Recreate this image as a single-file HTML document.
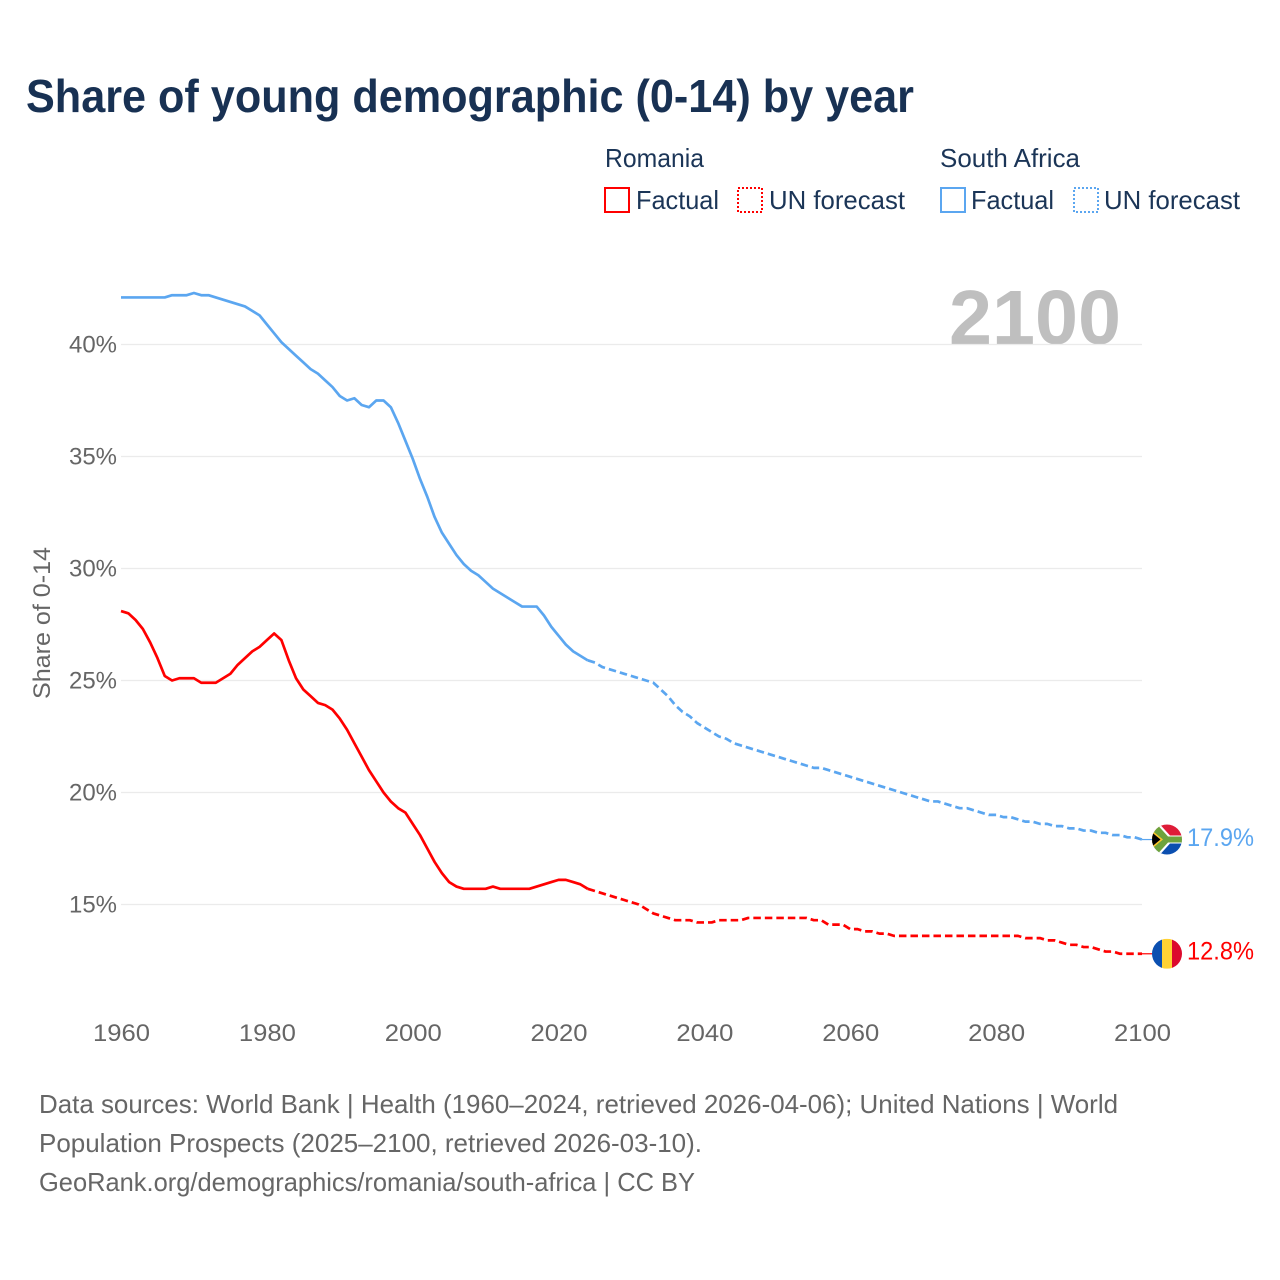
<!DOCTYPE html>
<html lang="en">
<head>
<meta charset="utf-8">
<title>Share of young demographic (0-14) by year</title>
<style>
html,body{margin:0;padding:0;background:#fff;width:1280px;height:1280px;overflow:hidden}
svg{display:block}
text{font-family:"Liberation Sans",sans-serif}
</style>
</head>
<body>
<svg id="chart" xmlns="http://www.w3.org/2000/svg" width="1280" height="1280" viewBox="0 0 1280 1280">
  <rect width="1280" height="1280" fill="#fff"/>
  <defs>
    <clipPath id="flagClipSA"><circle cx="0" cy="0" r="15"/></clipPath>
    <clipPath id="flagClipRO"><circle cx="0" cy="0" r="15"/></clipPath>
  </defs>

  <text x="26" y="112" font-size="46" font-weight="700" fill="#183153" textLength="888" lengthAdjust="spacingAndGlyphs">Share of young demographic (0-14) by year</text>

  <g fill="#1b3557" font-size="26">
    <text x="605" y="167" textLength="99" lengthAdjust="spacingAndGlyphs">Romania</text>
    <text x="940" y="167" textLength="140" lengthAdjust="spacingAndGlyphs">South Africa</text>
    <rect x="605" y="188" width="24" height="24" fill="none" stroke="#ff0000" stroke-width="2"/>
    <text x="636" y="209" textLength="83" lengthAdjust="spacingAndGlyphs">Factual</text>
    <rect x="738" y="188" width="24" height="24" fill="none" stroke="#ff0000" stroke-width="2" stroke-dasharray="2 2"/>
    <text x="769" y="209" textLength="136" lengthAdjust="spacingAndGlyphs">UN forecast</text>
    <rect x="941" y="188" width="24" height="24" fill="none" stroke="#5ba6f0" stroke-width="2"/>
    <text x="971" y="209" textLength="83" lengthAdjust="spacingAndGlyphs">Factual</text>
    <rect x="1074" y="188" width="24" height="24" fill="none" stroke="#5ba6f0" stroke-width="2" stroke-dasharray="2 2"/>
    <text x="1104" y="209" textLength="136" lengthAdjust="spacingAndGlyphs">UN forecast</text>
  </g>

  <text x="949" y="344" font-size="77" font-weight="700" fill="#bfbfbf" textLength="172" lengthAdjust="spacingAndGlyphs">2100</text>

  <g id="grid"></g>
  <g id="yticks"></g>
  <g id="xticks"></g>

  <text transform="translate(50,623) rotate(-90)" text-anchor="middle" font-size="24" fill="#666" textLength="152" lengthAdjust="spacingAndGlyphs">Share of 0-14</text>

  <g id="series"></g>

  <g id="flagSA">
    <g clip-path="url(#flagClipSA)">
      <rect x="-15" y="-15" width="30" height="15" fill="#de1c38"/>
      <rect x="-15" y="0" width="30" height="15" fill="#0b4fb0"/>
      <path d="M-15,-15 L-7,-15 L3,-4 L15,-4 L15,4 L3,4 L-7,15 L-15,15 Z" fill="#fff"/>
      <path d="M-15,-14 L-9,-14 L1,-3 L15,-3 L15,3 L1,3 L-9,14 L-15,14 Z" fill="#6ea33c"/>
      <path d="M-15,-9 L-4,0 L-15,9 Z" fill="#ffc72c"/>
      <path d="M-15,-7 L-6.5,0 L-15,7 Z" fill="#000"/>
    </g>
  </g>
  <g id="flagRO">
    <g clip-path="url(#flagClipRO)">
      <rect x="-15" y="-15" width="10" height="30" fill="#0b4fb0"/>
      <rect x="-5" y="-15" width="10" height="30" fill="#ffd234"/>
      <rect x="5" y="-15" width="10" height="30" fill="#dc0a2d"/>
    </g>
  </g>
  <text id="endSA" font-size="25" fill="#5ba6f0" textLength="67" lengthAdjust="spacingAndGlyphs"></text>
  <text id="endRO" font-size="25" fill="#ff0000" textLength="67" lengthAdjust="spacingAndGlyphs"></text>

  <g font-size="26" fill="#666">
    <text x="39" y="1113" textLength="1079" lengthAdjust="spacingAndGlyphs">Data sources: World Bank | Health (1960–2024, retrieved 2026-04-06); United Nations | World</text>
    <text x="39" y="1152" textLength="663" lengthAdjust="spacingAndGlyphs">Population Prospects (2025–2100, retrieved 2026-03-10).</text>
    <text x="39" y="1191" textLength="656" lengthAdjust="spacingAndGlyphs">GeoRank.org/demographics/romania/south-africa | CC BY</text>
  </g>
</svg>
<script>
const startYear = 1960;
const lastFactualYear = 2024;
const yTicks = [15, 20, 25, 30, 35, 40];
const xTicks = [1960, 1980, 2000, 2020, 2040, 2060, 2080, 2100];
const southAfrica = [
  42.1,42.1,42.1,42.1,42.1,42.1,42.1,42.2,42.2,42.2,
  42.3,42.2,42.2,42.1,42.0,41.9,41.8,41.7,41.5,41.3,
  40.9,40.5,40.1,39.8,39.5,39.2,38.9,38.7,38.4,38.1,
  37.7,37.5,37.6,37.3,37.2,37.5,37.5,37.2,36.5,35.7,
  34.9,34.0,33.2,32.3,31.6,31.1,30.6,30.2,29.9,29.7,
  29.4,29.1,28.9,28.7,28.5,28.3,28.3,28.3,27.9,27.4,
  27.0,26.6,26.3,26.1,25.9,25.8,25.6,25.5,25.4,25.3,
  25.2,25.1,25.0,24.9,24.6,24.3,23.9,23.6,23.4,23.1,
  22.9,22.7,22.5,22.4,22.2,22.1,22.0,21.9,21.8,21.7,
  21.6,21.5,21.4,21.3,21.2,21.1,21.1,21.0,20.9,20.8,
  20.7,20.6,20.5,20.4,20.3,20.2,20.1,20.0,19.9,19.8,
  19.7,19.6,19.6,19.5,19.4,19.3,19.3,19.2,19.1,19.0,
  19.0,18.9,18.9,18.8,18.7,18.7,18.6,18.6,18.5,18.5,
  18.4,18.4,18.3,18.3,18.2,18.2,18.1,18.1,18.0,18.0,
  17.9
];
const romania = [
  28.1,28.0,27.7,27.3,26.7,26.0,25.2,25.0,25.1,25.1,
  25.1,24.9,24.9,24.9,25.1,25.3,25.7,26.0,26.3,26.5,
  26.8,27.1,26.8,25.9,25.1,24.6,24.3,24.0,23.9,23.7,
  23.3,22.8,22.2,21.6,21.0,20.5,20.0,19.6,19.3,19.1,
  18.6,18.1,17.5,16.9,16.4,16.0,15.8,15.7,15.7,15.7,
  15.7,15.8,15.7,15.7,15.7,15.7,15.7,15.8,15.9,16.0,
  16.1,16.1,16.0,15.9,15.7,15.6,15.5,15.4,15.3,15.2,
  15.1,15.0,14.8,14.6,14.5,14.4,14.3,14.3,14.3,14.2,
  14.2,14.2,14.3,14.3,14.3,14.3,14.4,14.4,14.4,14.4,
  14.4,14.4,14.4,14.4,14.4,14.3,14.3,14.1,14.1,14.1,
  13.9,13.9,13.8,13.8,13.7,13.7,13.6,13.6,13.6,13.6,
  13.6,13.6,13.6,13.6,13.6,13.6,13.6,13.6,13.6,13.6,
  13.6,13.6,13.6,13.6,13.5,13.5,13.5,13.4,13.4,13.3,
  13.2,13.2,13.1,13.1,13.0,12.9,12.9,12.8,12.8,12.8,
  12.8
];

const SVGNS = 'http://www.w3.org/2000/svg';
const xScale = year => 121 + (year - 1960) * (1142 - 121) / 140;
const yScale = v => 344.5 + (40 - v) * 22.4;
const pathFor = (vals, from, to) => {
  let d = '';
  for (let y = from; y <= to; y++) {
    const v = vals[y - startYear];
    d += (d ? ' L' : 'M') + xScale(y).toFixed(2) + ',' + yScale(v).toFixed(2);
  }
  return d;
};

const gridG = document.getElementById('grid');
const yG = document.getElementById('yticks');
yTicks.forEach(t => {
  const l = document.createElementNS(SVGNS, 'line');
  
  
  l.setAttribute('x1', 121);
  l.setAttribute('x2', 1142);
  l.setAttribute('y1', yScale(t));
  l.setAttribute('y2', yScale(t));
  l.setAttribute('stroke', '#ebebeb');
  l.setAttribute('stroke-width', 1.3);
  gridG.appendChild(l);
  const s = document.createElementNS(SVGNS, 'text');
  
  
  s.setAttribute('x', 69);
  s.setAttribute('y', yScale(t) + 8);
  s.setAttribute('font-size', 24);
  s.setAttribute('fill', '#666');
  s.setAttribute('textLength', 48);
  s.setAttribute('lengthAdjust', 'spacingAndGlyphs');
  s.textContent = t + '%';
  yG.appendChild(s);
});

const xG = document.getElementById('xticks');
xTicks.forEach(t => {
  const s = document.createElementNS(SVGNS, 'text');
  
  
  s.setAttribute('x', xScale(t) - 28);
  s.setAttribute('y', 1041);
  s.setAttribute('font-size', 24);
  s.setAttribute('fill', '#666');
  s.setAttribute('textLength', 57);
  s.setAttribute('lengthAdjust', 'spacingAndGlyphs');
  s.textContent = t;
  xG.appendChild(s);
});

const seriesG = document.getElementById('series');
const endYear = startYear + southAfrica.length - 1;
const drawLine = (vals, color, nm, dashed) => {
  const p = document.createElementNS(SVGNS, 'path');
  
  
  p.setAttribute('d', dashed ? pathFor(vals, lastFactualYear, endYear) : pathFor(vals, startYear, lastFactualYear));
  p.setAttribute('fill', 'none');
  p.setAttribute('stroke', color);
  p.setAttribute('stroke-width', 2.7);
  p.setAttribute('stroke-linejoin', 'round');
  if (dashed) p.setAttribute('stroke-dasharray', '7.5 4');
  seriesG.appendChild(p);
};
const drawLeader = (vals, color, nm) => {
  const l = document.createElementNS(SVGNS, 'line');
  
  
  l.setAttribute('x1', xScale(endYear));
  l.setAttribute('x2', xScale(endYear) + 12);
  l.setAttribute('y1', yScale(vals[vals.length - 1]));
  l.setAttribute('y2', yScale(vals[vals.length - 1]));
  l.setAttribute('stroke', color);
  l.setAttribute('stroke-width', 1.2);
  seriesG.appendChild(l);
};
drawLine(southAfrica, '#5ba6f0', 'south-africa-factual-line', false);
drawLine(southAfrica, '#5ba6f0', 'south-africa-forecast-line', true);
drawLeader(southAfrica, '#5ba6f0', 'south-africa-flag-leader');
drawLine(romania, '#ff0000', 'romania-factual-line', false);
drawLine(romania, '#ff0000', 'romania-forecast-line', true);
drawLeader(romania, '#ff0000', 'romania-flag-leader');

const saEnd = southAfrica[southAfrica.length - 1];
const roEnd = romania[romania.length - 1];
document.getElementById('flagSA').setAttribute('transform', 'translate(' + (xScale(endYear) + 25) + ',' + yScale(saEnd) + ')');
document.getElementById('flagRO').setAttribute('transform', 'translate(' + (xScale(endYear) + 25) + ',' + yScale(roEnd) + ')');
const endSA = document.getElementById('endSA');
endSA.setAttribute('x', xScale(endYear) + 45);
endSA.setAttribute('y', yScale(saEnd) + 6.5);
endSA.textContent = saEnd.toFixed(1) + '%';
const endRO = document.getElementById('endRO');
endRO.setAttribute('x', xScale(endYear) + 45);
endRO.setAttribute('y', yScale(roEnd) + 5.5);
endRO.textContent = roEnd.toFixed(1) + '%';
</script>
</body>
</html>
